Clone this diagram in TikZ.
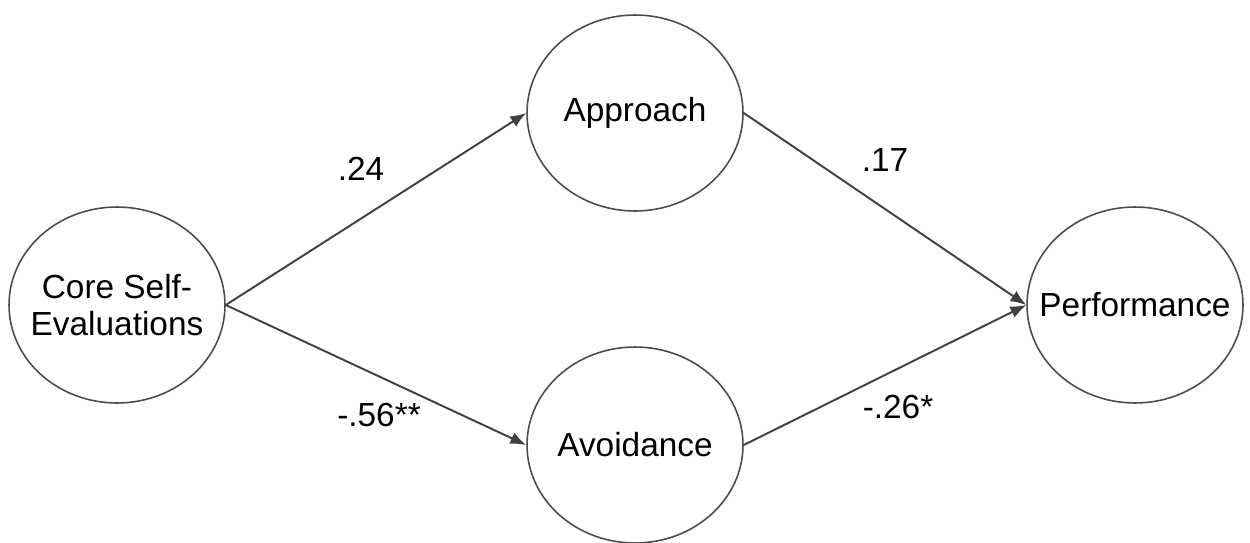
\documentclass[tikz,border=0pt]{standalone}
\usepackage{fontspec}
\setmainfont{Liberation Sans}
\usetikzlibrary{shapes.geometric,arrows.meta}
\begin{document}
\begin{tikzpicture}[x=0.02cm,y=0.02cm,
  latent/.style={ellipse,draw=black!70,line width=0.9pt,minimum width=4.32cm,
    minimum height=3.92cm,inner xsep=-40pt,inner ysep=-30pt,align=center,
    font=\fontsize{19}{21.5}\selectfont},
  path/.style={draw=black!75,line width=1.1pt,-{Latex[length=9pt,width=7pt]}},
  coef/.style={font=\fontsize{19}{21.5}\selectfont,inner sep=0pt}]
\useasboundingbox (0,0) rectangle (1250,542);
\node[latent] (cse)  at (117,237)  {Core Self-\\Evaluations};
\node[latent] (app)  at (635,429)  {Approach};
\node[latent] (avo)  at (635,97)   {Avoidance};
\node[latent] (perf) at (1135,237) {Performance};
\draw[path] (cse.east) -- (app.west);
\draw[path] (cse.east) -- (avo.west);
\draw[path] (app.east) -- (perf.west);
\draw[path] (avo.east) -- (perf.west);
\node[coef] (l1) at (361,373) {.24};
\node[coef] (l2) at (379,127) {-.56**};
\node[coef] (l3) at (885,382) {.17};
\node[coef] (l4) at (898,135) {-.26*};
\end{tikzpicture}
\end{document}
